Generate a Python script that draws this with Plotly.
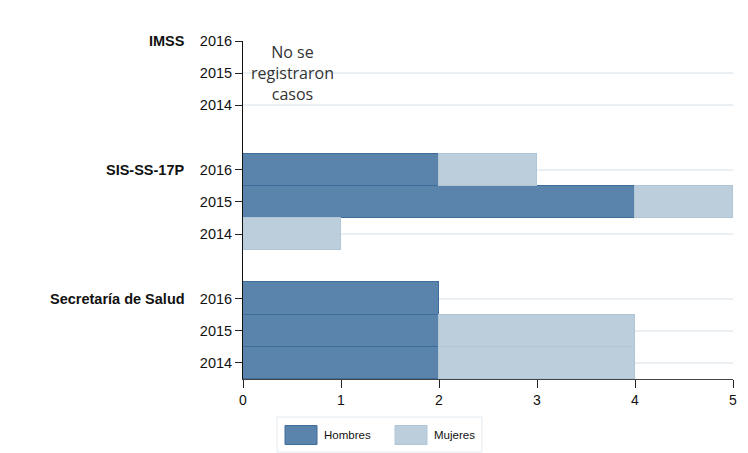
import plotly.graph_objects as go

groups = ["IMSS", "SIS-SS-17P", "Secretaría de Salud"]
years = ["2016", "2015", "2014"]
series_names = ["Hombres", "Mujeres"]
hombres = [[0, 0, 0], [2, 4, 0], [2, 2, 2]]
mujeres = [[0, 0, 0], [1, 1, 1], [0, 2, 2]]
x_ticks = [0, 1, 2, 3, 4, 5]
note = "No se<br>registraron<br>casos"

fill_colors = ["#5b84ad", "#bccedc"]
edge_colors = ["#3f6c9b", "#b0c6d6"]

# page is rendered with an 8px body margin
OFF = 8
PAGE_W, PAGE_H = 748, 453
W, H = PAGE_W - OFF, PAGE_H - OFF
PL, PR, PT, PB = 243, 733, 41, 379   # plot area in page pixels
L, R, T, B = PL - OFF, PAGE_W - PR, PT - OFF, PAGE_H - PB
pw, ph = PR - PL, PB - PT

def px_x(p):
    return (p - PL) / pw

def px_y(p):
    return (PB - p) / ph

pos, ticklabels = [], []
for gi, g in enumerate(groups):
    for yi, y in enumerate(years):
        pos.append(gi * 4 + yi)
        ticklabels.append(y)

def flat(arr):
    out = []
    for row in arr:
        for v in row:
            out.append(v if v else None)
    return out

fig = go.Figure()
for name, vals, fc, ec in zip(series_names, [hombres, mujeres], fill_colors, edge_colors):
    fig.add_trace(go.Bar(
        y=pos, x=flat(vals), orientation="h", name=name, width=1.0,
        marker=dict(color=fc, line=dict(color=ec, width=1)),
        showlegend=False, hoverinfo="x+y",
    ))

annotations = []
for gi, g in enumerate(groups):
    annotations.append(dict(
        x=px_x(187), y=gi * 4, xref="paper", yref="y", text="<b>%s</b>" % g,
        showarrow=False, xanchor="right", yanchor="middle",
        font=dict(family="Liberation Sans, Arial", size=14.5, color="#111"),
    ))
annotations.append(dict(
    x=0.5, y=1, xref="x", yref="y", text=note, showarrow=False,
    xanchor="center", yanchor="middle",
    font=dict(family="Open Sans", size=16, color="#333"),
))

shapes = []
shapes.append(dict(type="rect", xref="paper", yref="paper",
                   x0=px_x(277), x1=px_x(482), y0=px_y(452), y1=px_y(417),
                   line=dict(color="#e3eaee", width=1), fillcolor="white"))
legend_x = [285, 395]
for lx, name, fc, ec in zip(legend_x, series_names, fill_colors, edge_colors):
    shapes.append(dict(type="rect", xref="paper", yref="paper",
                       x0=px_x(lx), x1=px_x(lx + 32), y0=px_y(444.5), y1=px_y(425.5),
                       line=dict(color=ec, width=1), fillcolor=fc))
    annotations.append(dict(x=px_x(lx + 37), y=px_y(435), xref="paper", yref="paper",
                            text=name, showarrow=False, xanchor="left", yanchor="middle",
                            font=dict(family="Liberation Sans, Arial", size=11.5, color="#111")))

fig.update_layout(
    barmode="stack",
    width=W, height=H,
    margin=dict(l=L, r=R, t=T, b=B, pad=0),
    plot_bgcolor="white", paper_bgcolor="white",
    bargap=0,
    annotations=annotations,
    shapes=shapes,
    xaxis=dict(range=[0, 5], tickvals=x_ticks, ticks="outside", ticklen=8,
               tickcolor="#222", showline=True, linecolor="#444", linewidth=1,
               showgrid=False, zeroline=False,
               tickfont=dict(family="Liberation Sans, Arial", size=14, color="#111")),
    yaxis=dict(range=[10.5, 0], tickvals=pos, ticktext=ticklabels, ticks="outside",
               ticklen=7, tickcolor="#222", showline=True, linecolor="#111", linewidth=1,
               showgrid=True, gridcolor="#e9eff3", gridwidth=1.5, zeroline=False,
               tickfont=dict(family="Liberation Sans, Arial", size=14.5, color="#111")),
    font=dict(family="Liberation Sans, Arial"),
)

fig.write_html("out.html")
